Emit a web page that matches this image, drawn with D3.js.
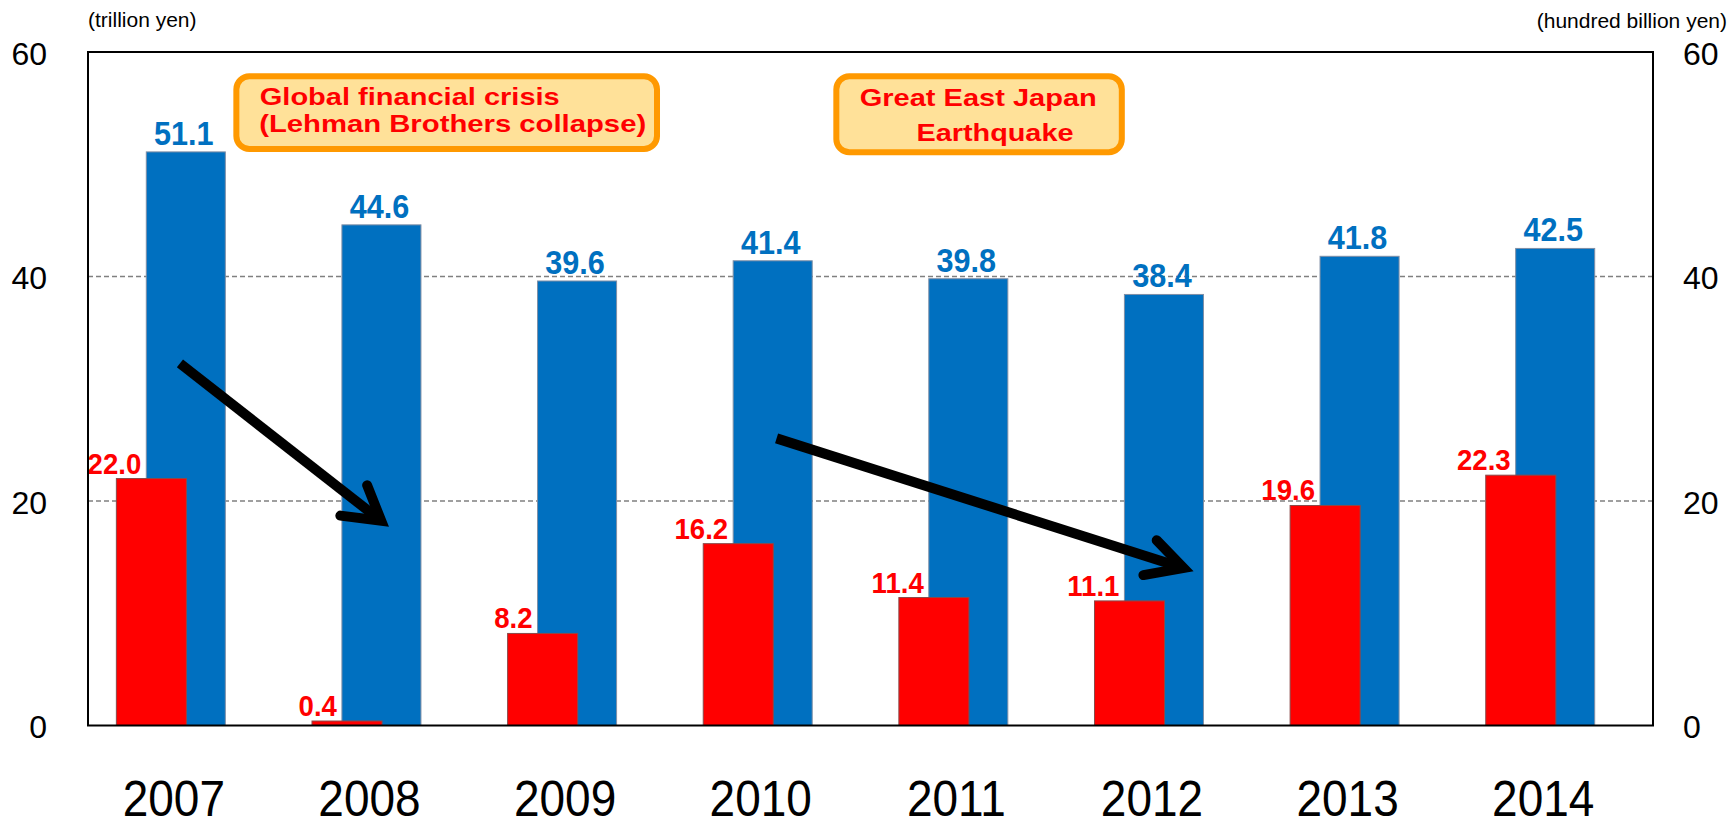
<!DOCTYPE html>
<html>
<head>
<meta charset="utf-8">
<script src="https://cdn.jsdelivr.net/npm/d3@7"></script>
<style>
  body { margin: 0; background: #fff; }
  svg { display: block; font-family: "Liberation Sans", Arial, sans-serif; }
</style>
</head>
<body>
<svg id="chart"></svg>
<script>
// data
var years = ["2007", "2008", "2009", "2010", "2011", "2012", "2013", "2014"];
var trillionYen = [51.1, 44.6, 39.6, 41.4, 39.8, 38.4, 41.8, 42.5];      // blue, left axis
var hundredBillionYen = [22.0, 0.4, 8.2, 16.2, 11.4, 11.1, 19.6, 22.3]; // red, right axis
var yTicks = [0, 20, 40, 60];

var width = 1729, height = 818;
var plotLeft = 88, plotRight = 1653, plotTop = 52, plotBottom = 725.5;

var svg = d3.select("#chart").attr("width", width).attr("height", height);

var x = d3.scaleBand().domain(years).range([plotLeft, plotRight]).padding(0);
var yL = d3.scaleLinear().domain([0, 60]).range([plotBottom, plotTop]);
var yR = d3.scaleLinear().domain([0, 60]).range([plotBottom, plotTop]);
// continuous x for the annotations (category index)
var xi = d3.scaleLinear().domain([0, years.length]).range([plotLeft, plotRight]);

var bw = x.bandwidth();
var blueW = bw * 0.404, redW = bw * 0.358, redShift = -bw * 0.176;

// gridlines (behind bars)
svg.append("g").selectAll("line")
    .data([20, 40])
    .enter().append("line")
    .attr("x1", plotLeft).attr("x2", plotRight)
    .attr("y1", function (d) { return yL(d); })
    .attr("y2", function (d) { return yL(d); })
    .attr("stroke", "#808080")
    .attr("stroke-width", 1.3)
    .attr("stroke-dasharray", "5,3");

// blue bars
svg.append("g").selectAll("rect")
    .data(trillionYen)
    .enter().append("rect")
    .attr("x", function (d, i) { return x(years[i]) + bw / 2 - blueW / 2; })
    .attr("y", function (d) { return yL(d); })
    .attr("width", blueW)
    .attr("height", function (d) { return plotBottom - yL(d); })
    .attr("fill", "#0070C0")
    .attr("stroke", "#7f8fa6")
    .attr("stroke-width", 1);

// red bars on top
svg.append("g").selectAll("rect")
    .data(hundredBillionYen)
    .enter().append("rect")
    .attr("x", function (d, i) { return x(years[i]) + bw / 2 + redShift - redW / 2; })
    .attr("y", function (d) { return yR(d); })
    .attr("width", redW)
    .attr("height", function (d) { return plotBottom - yR(d); })
    .attr("fill", "#FF0000")
    .attr("stroke", "#8a4a4a")
    .attr("stroke-width", 1);

// value labels (narrow, tall digits like the original)
svg.append("g").selectAll("text")
    .data(trillionYen)
    .enter().append("text")
    .attr("transform", function (d, i) {
        return "translate(" + (x(years[i]) + bw / 2 - 2) + "," + (yL(d) - 7) + ") scale(0.9,1)";
    })
    .attr("text-anchor", "middle")
    .attr("font-size", 34)
    .attr("font-weight", "bold")
    .attr("fill", "#0070C0")
    .text(function (d) { return d.toFixed(1); });

svg.append("g").selectAll("text")
    .data(hundredBillionYen)
    .enter().append("text")
    .attr("transform", function (d, i) {
        return "translate(" + (x(years[i]) + bw / 2 - blueW / 2 - 5) + "," + (yR(d) - 5) + ") scale(0.92,1)";
    })
    .attr("text-anchor", "end")
    .attr("font-size", 30)
    .attr("font-weight", "bold")
    .attr("fill", "#FF0000")
    .text(function (d) { return d.toFixed(1); });

// plot frame
svg.append("rect")
    .attr("x", plotLeft).attr("y", plotTop)
    .attr("width", plotRight - plotLeft).attr("height", plotBottom - plotTop)
    .attr("fill", "none")
    .attr("stroke", "#000")
    .attr("stroke-width", 2);

// axes
var axL = svg.append("g")
    .attr("transform", "translate(" + plotLeft + ",0)")
    .call(d3.axisLeft(yL).tickValues(yTicks).tickSize(0).tickPadding(41).tickFormat(d3.format("d")));
var axR = svg.append("g")
    .attr("transform", "translate(" + plotRight + ",0)")
    .call(d3.axisRight(yR).tickValues(yTicks).tickSize(0).tickPadding(30).tickFormat(d3.format("d")));
var axB = svg.append("g")
    .attr("transform", "translate(0," + plotBottom + ")")
    .call(d3.axisBottom(x).tickSize(0).tickPadding(56));
[axL, axR, axB].forEach(function (a) {
    a.select(".domain").remove();
    a.selectAll("text").attr("font-family", "Liberation Sans, Arial, sans-serif").attr("fill", "#000");
});
axL.selectAll("text").attr("font-size", 32).attr("dy", "0.38em");
axR.selectAll("text").attr("font-size", 32).attr("dy", "0.38em");
axB.selectAll("text").attr("font-size", 50).attr("dx", -13).attr("dy", "0.7em")
    .attr("transform", "scale(0.92,1)");

// axis titles
svg.append("text").attr("x", plotLeft).attr("y", 27)
    .attr("font-size", 21).text("(trillion yen)");
svg.append("text").attr("x", 1727).attr("y", 28)
    .attr("text-anchor", "end")
    .attr("font-size", 21).text("(hundred billion yen)");

// annotation boxes, placed in data coordinates (category index, value)
var boxes = [
    { x0: 0.743, x1: 2.924, y0: 58.1, y1: 51.1,
      lines: [
        { t: "Global financial crisis", dx: 0.135, v: 55.3, len: 300 },
        { t: "(Lehman Brothers collapse)", dx: 0.132, v: 52.85, len: 387 }
      ] },
    { x0: 3.81, x1: 5.30, y0: 58.1, y1: 50.8,
      lines: [
        { t: "Great East Japan", dx: 0.135, v: 55.15, len: 237 },
        { t: "Earthquake", dx: 0.425, v: 52.1, len: 157 }
      ] }
];
boxes.forEach(function (b) {
    var g = svg.append("g");
    g.append("rect")
        .attr("x", xi(b.x0) + 3).attr("y", yL(b.y0) + 3)
        .attr("width", xi(b.x1) - xi(b.x0) - 6)
        .attr("height", yL(b.y1) - yL(b.y0) - 6)
        .attr("rx", 13).attr("ry", 13)
        .attr("fill", "#FFE199")
        .attr("stroke", "#FF9900")
        .attr("stroke-width", 6);
    b.lines.forEach(function (l) {
        g.append("text")
            .attr("x", xi(b.x0 + l.dx))
            .attr("y", yL(l.v))
            .attr("font-size", 24)
            .attr("font-weight", "bold")
            .attr("fill", "#FF0000")
            .attr("textLength", l.len)
            .attr("lengthAdjust", "spacingAndGlyphs")
            .text(l.t);
    });
});

// trend arrows (category index, value)
var arrows = [
    { from: [0.47, 32.26], to: [1.527, 17.85], arm1: [1.427, 21.4], arm2: [1.29, 18.7] },
    { from: [3.52, 25.58], to: [5.634, 13.84], arm1: [5.463, 16.5], arm2: [5.395, 13.4] }
];
arrows.forEach(function (a) {
    var g = svg.append("g")
        .attr("fill", "none").attr("stroke", "#000").attr("stroke-width", 10);
    var tip = [xi(a.to[0]), yL(a.to[1])];
    var st = [xi(a.from[0]), yL(a.from[1])];
    var ang = Math.atan2(tip[1] - st[1], tip[0] - st[0]);
    g.append("line")
        .attr("x1", st[0]).attr("y1", st[1])
        .attr("x2", tip[0] - 9 * Math.cos(ang)).attr("y2", tip[1] - 9 * Math.sin(ang))
        .attr("stroke-linecap", "butt");
    g.append("path")
        .attr("d", "M" + xi(a.arm1[0]) + "," + yL(a.arm1[1]) +
                   "L" + (tip[0] - 7 * Math.cos(ang)) + "," + (tip[1] - 7 * Math.sin(ang)) +
                   "L" + xi(a.arm2[0]) + "," + yL(a.arm2[1]))
        .attr("stroke-linecap", "round")
        .attr("stroke-linejoin", "miter")
        .attr("stroke-miterlimit", 10);
});
</script>
</body>
</html>
